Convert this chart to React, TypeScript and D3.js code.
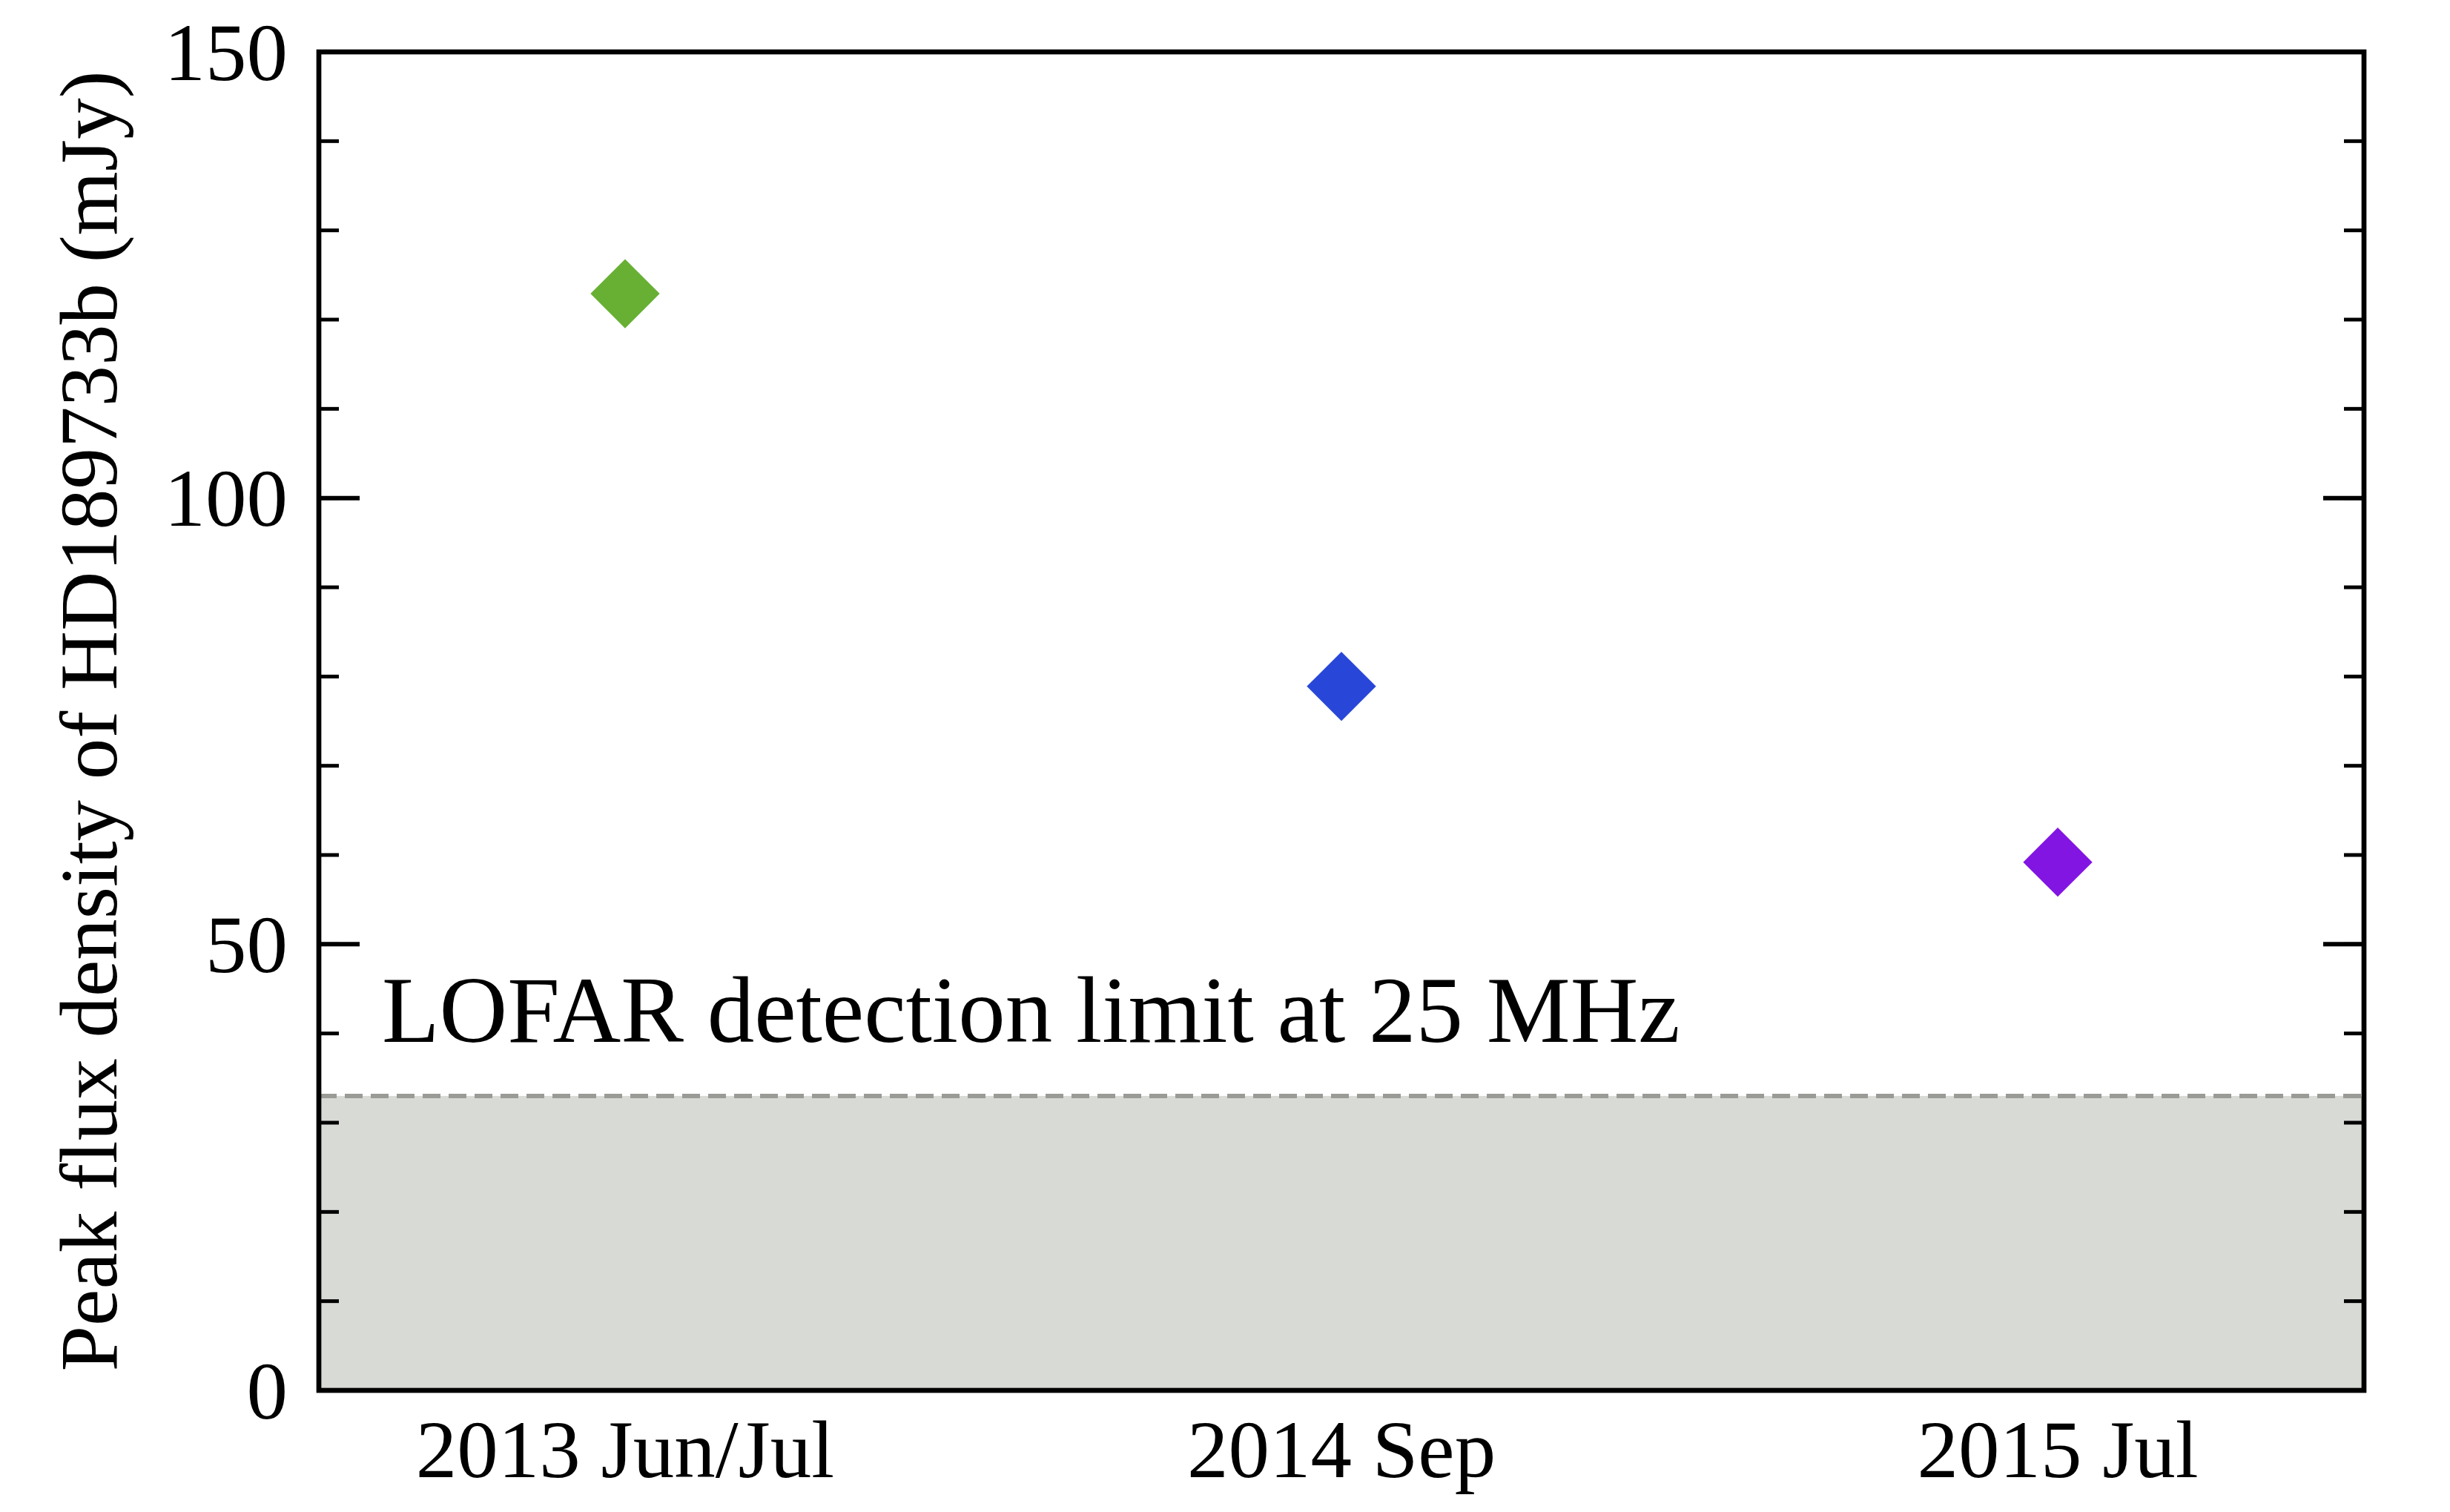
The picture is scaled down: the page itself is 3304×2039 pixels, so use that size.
import React from "react";
import * as d3 from "d3";

const categories = ["2013 Jun/Jul", "2014 Sep", "2015 Jul"];
const fluxValues = [122.9, 78.9, 59.2];
const pointColors = ["#67b034", "#2847d8", "#8215e2"];
const yMajorTicks = [0, 50, 100, 150];
const yMinorTicks = d3.range(0, 151, 10);
const detectionLimit = 33;
const limitLabel = "LOFAR detection limit at 25 MHz";
const yLabel = "Peak flux density of HD189733b (mJy)";

const W = 3304;
const H = 2039;
const M = { left: 430, right: 3188, top: 70, bottom: 1875 };
const FONT = "'Liberation Serif', 'Times New Roman', serif";

export default function App() {
  const x = d3
    .scalePoint<string>()
    .domain(categories)
    .range([M.left, M.right])
    .padding(0.4275);
  const y = d3.scaleLinear().domain([0, 150]).range([M.bottom, M.top]);
  const diamond = d3.symbol().type(d3.symbolSquare).size(4356)();

  return (
    <svg
      width={W}
      height={H}
      style={{ position: "absolute", left: 0, top: 0, background: "#fff" }}
      fontFamily={FONT}
    >
      <rect x={0} y={0} width={W} height={H} fill="#fff" />
      {/* shaded region below detection limit */}
      <rect
        x={M.left}
        y={y(detectionLimit)}
        width={M.right - M.left}
        height={y(0) - y(detectionLimit)}
        fill="#d8dad5"
      />
      <line
        x1={M.left}
        x2={M.right}
        y1={y(detectionLimit)}
        y2={y(detectionLimit)}
        stroke="#9a9b97"
        strokeWidth={6}
        strokeDasharray="24 11"
      />
      <text x={515} y={1405} fontSize={127} fill="#000">
        {limitLabel}
      </text>
      {/* minor ticks */}
      {yMinorTicks.map((t) => (
        <g key={"mn" + t}>
          <line x1={M.left} x2={M.left + 27} y1={y(t)} y2={y(t)} stroke="#000" strokeWidth={5} />
          <line x1={M.right} x2={M.right - 27} y1={y(t)} y2={y(t)} stroke="#000" strokeWidth={5} />
        </g>
      ))}
      {yMajorTicks.map((t) => (
        <g key={"mj" + t}>
          <line x1={M.left} x2={M.left + 55} y1={y(t)} y2={y(t)} stroke="#000" strokeWidth={6} />
          <line x1={M.right} x2={M.right - 55} y1={y(t)} y2={y(t)} stroke="#000" strokeWidth={6} />
          <text
            x={388}
            y={y(t)}
            fontSize={111}
            textAnchor="end"
            dominantBaseline="central"
            fill="#000"
          >
            {t}
          </text>
        </g>
      ))}
      {/* data points */}
      {categories.map((c, i) => (
        <path
          key={c}
          d={diamond || ""}
          transform={`translate(${x(c)},${y(fluxValues[i])}) rotate(45)`}
          fill={pointColors[i]}
        />
      ))}
      {/* frame */}
      <rect
        x={M.left}
        y={M.top}
        width={M.right - M.left}
        height={M.bottom - M.top}
        fill="none"
        stroke="#000"
        strokeWidth={6.7}
      />
      {/* x labels */}
      {categories.map((c) => (
        <text key={"xl" + c} x={x(c)} y={1992} fontSize={111} textAnchor="middle" fill="#000">
          {c}
        </text>
      ))}
      <text
        transform={`translate(157,${(M.top + M.bottom) / 2}) rotate(-90)`}
        fontSize={111}
        textAnchor="middle"
        fill="#000"
      >
        {yLabel}
      </text>
    </svg>
  );
}
